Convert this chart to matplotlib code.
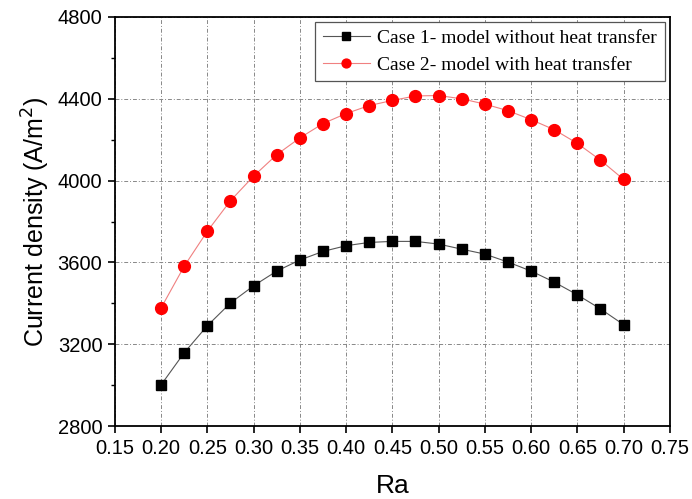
import matplotlib
matplotlib.use("Agg")
import matplotlib.pyplot as plt
from matplotlib.ticker import MultipleLocator

# Ra values and current densities
ra = [0.200, 0.225, 0.250, 0.275, 0.300, 0.325, 0.350, 0.375, 0.400, 0.425, 0.450,
      0.475, 0.500, 0.525, 0.550, 0.575, 0.600, 0.625, 0.650, 0.675, 0.700]
case1 = [3002, 3159, 3291, 3402, 3486, 3558, 3612, 3654, 3682, 3698, 3703,
         3703, 3690, 3665, 3641, 3602, 3558, 3504, 3442, 3373, 3296]
case2 = [3378, 3582, 3753, 3902, 4022, 4127, 4209, 4279, 4328, 4367, 4392,
         4414, 4416, 4400, 4374, 4342, 4298, 4249, 4182, 4100, 4006]
labels = ["Case 1- model without heat transfer", "Case 2- model with heat transfer"]

plt.rcParams['font.family'] = ['Liberation Sans', 'DejaVu Sans']

fig = plt.figure(figsize=(6.92, 4.99), dpi=100)
ax = fig.add_axes([0.166, 0.146, 0.802, 0.820])

ax.plot(ra, case1, color='#555555', lw=0.8, marker='s', ms=7.5,
        mfc='black', mec='black', label=labels[0], zorder=3)
ax.plot(ra, case2, color='#f08080', lw=0.8, marker='o', ms=8.5,
        mfc='red', mec='red', label=labels[1], zorder=3)

ax.set_xlim(0.15, 0.75)
ax.set_ylim(2800, 4800)
ax.xaxis.set_major_locator(MultipleLocator(0.05))
ax.yaxis.set_major_locator(MultipleLocator(400))
ax.yaxis.set_minor_locator(MultipleLocator(200))
ax.xaxis.set_major_formatter(plt.FuncFormatter(lambda v, p: f"{v:.2f}"))

ax.grid(True, which='major', color='#888888', ls=(0, (4, 2, 1, 2)), lw=0.7)
ax.tick_params(axis='both', which='major', direction='out', length=5, width=1.2,
               labelsize=14.5, top=False, right=False, pad=4)
ax.tick_params(axis='y', which='minor', direction='out', length=3, width=1.0)
for s in ax.spines.values():
    s.set_linewidth(1.3)

ax.set_xlabel("Ra", fontsize=19, labelpad=12)
ax.set_ylabel("Current density (A/m$^2$)", fontsize=18, labelpad=4)

leg = ax.legend(loc='upper right', prop={'family': 'Liberation Serif', 'size': 14},
                frameon=True, fancybox=False, edgecolor='#555555', framealpha=1,
                borderaxespad=0.25, handlelength=2.4, handletextpad=0.4,
                borderpad=0.4, labelspacing=0.45, markerscale=0.75)
leg.get_frame().set_linewidth(0.9)

fig.savefig("out.png", dpi=100)
